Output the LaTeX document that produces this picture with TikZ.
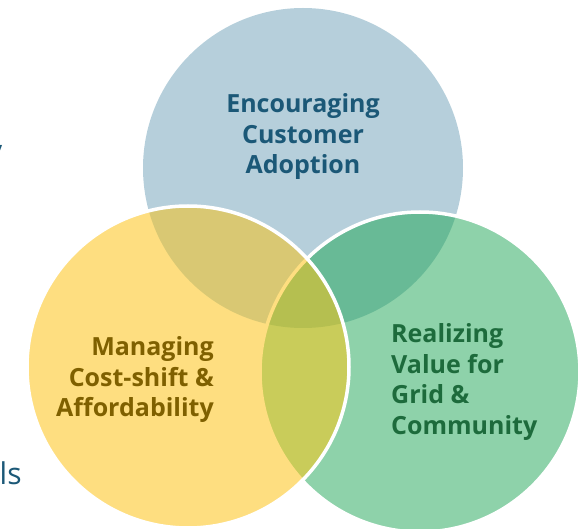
\documentclass[tikz,border=0pt]{standalone}
\usepackage{fontspec}
\setmainfont{Open Sans}
\definecolor{cBlue}{HTML}{B6CFDB}
\definecolor{cGreen}{HTML}{8ED2AA}
\definecolor{cYel}{HTML}{FEDE80}
\definecolor{cBG}{HTML}{68BA96}
\definecolor{cBY}{HTML}{D9C873}
\definecolor{cGY}{HTML}{C9CC5A}
\definecolor{cAll}{HTML}{B5BF50}
\definecolor{tBlue}{HTML}{1B5877}
\definecolor{tYel}{HTML}{7F6000}
\definecolor{tGreen}{HTML}{1D6B3C}
\tikzset{
  rim/.style={white, line width=3.5pt},
  label/.style={inner sep=0pt, font={\fontsize{25}{30.5}\selectfont\bfseries}},
  edgetext/.style={inner sep=0pt, text=tBlue, font={\fontsize{30}{36}\selectfont}}
}
\begin{document}
\begin{tikzpicture}[x=1pt, y=-1pt]
	\useasboundingbox (0,0) rectangle (582,529);
	\coordinate (cB) at (303,168);
	\coordinate (cG) at (420,372);
	\coordinate (cY) at (188,367);
	% порядок слоёв: синий, зелёный, жёлтый
	\fill[cBlue] (cB) circle[radius=160];
	\fill[cGreen] (cG) circle[radius=160];
	\begin{scope}
		\clip (cB) circle[radius=160];
		\fill[cBG] (cG) circle[radius=160];
	\end{scope}
	\draw[rim] (cG) circle[radius=160];
	\fill[cYel] (cY) circle[radius=161];
	\begin{scope}
		\clip (cY) circle[radius=161];
		\fill[cBY] (cB) circle[radius=160];
		\fill[cGY] (cG) circle[radius=160];
		\begin{scope}
			\clip (cB) circle[radius=160];
			\fill[cAll] (cG) circle[radius=160];
		\end{scope}
		\draw[cYel, line width=3.5pt] (cG) circle[radius=160];
	\end{scope}
	\draw[rim] (cY) circle[radius=161];
	% подписи
	\node[label, text=tBlue, align=center] (adopt) at (303,137) {Encouraging\\Customer\\Adoption};
	\node[label, text=tYel, align=right, anchor=east] (cost) at (214,380) {Managing\\Cost-shift \&\\Affordability};
	\node[label, text=tGreen, align=left, anchor=west] (grid) at (391,382) {Realizing\\Value for\\Grid \&\\Community};
	\node[edgetext, anchor=base east] (yfrag) at (2.5,162) {y};
	\node[edgetext, anchor=base west] (lsfrag) at (-0.5,485) {ls};
\end{tikzpicture}
\end{document}
